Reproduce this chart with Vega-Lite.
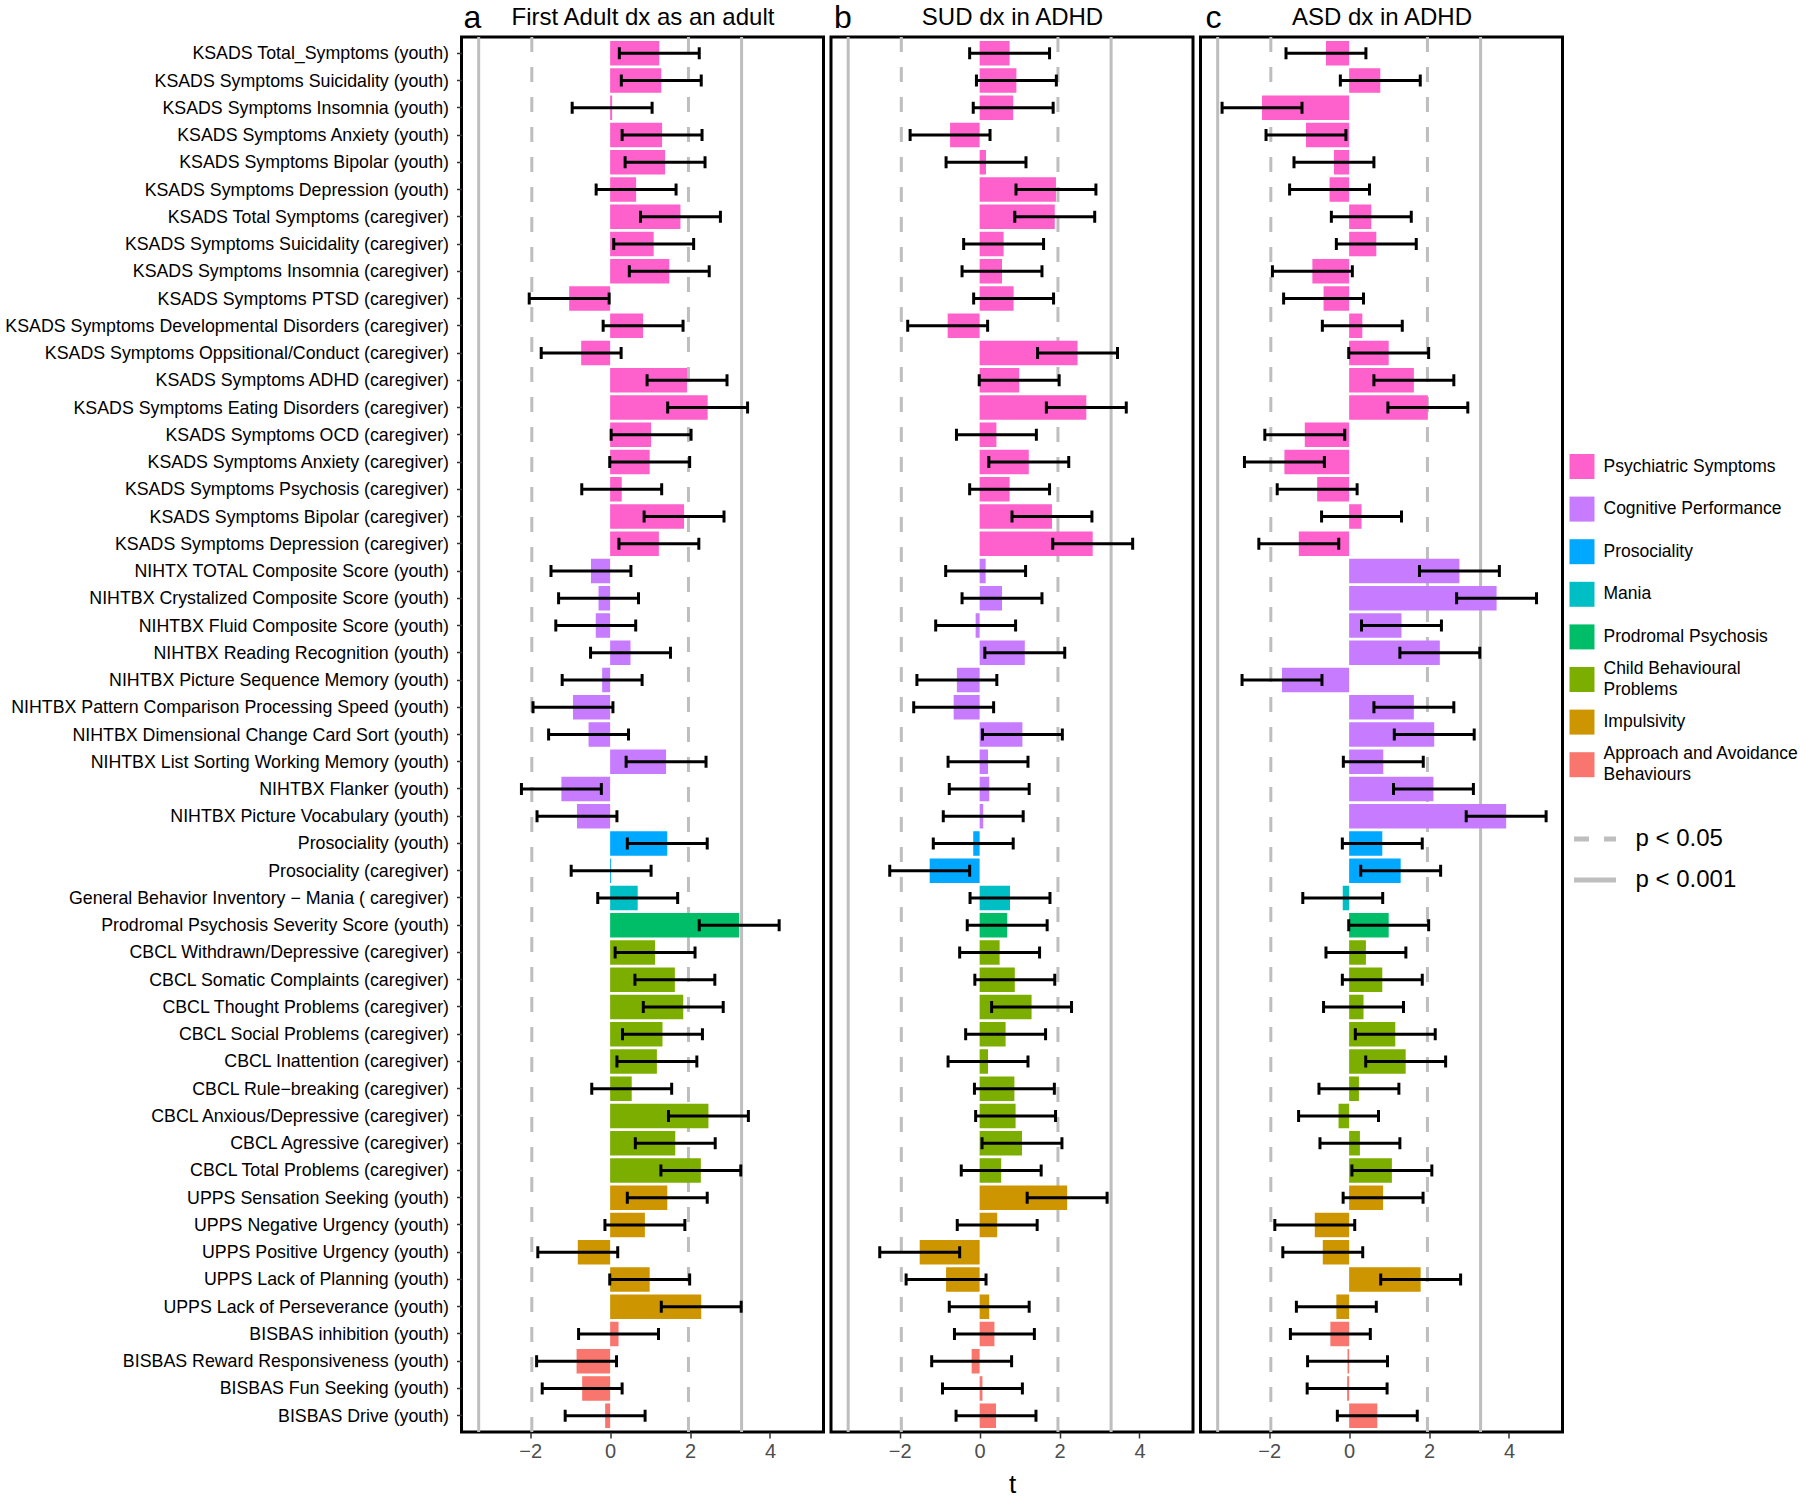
{
  "$schema": "https://vega.github.io/schema/vega-lite/v6.json",
  "padding": {"left": 2.5, "top": 0, "right": 0, "bottom": 0},
  "background": "white",
  "config": {
    "font": "Liberation Sans",
    "view": {"stroke": "black", "strokeWidth": 3},
    "axis": {"grid": false}
  },
  "datasets": {
    "vl": [
      {"v": -3.29, "p": "p < 0.001"},
      {"v": -1.96, "p": "p < 0.05"},
      {"v": 1.96, "p": "p < 0.05"},
      {"v": 3.29, "p": "p < 0.001"}
    ],
    "d": [
      {"item": "KSADS Total_Symptoms (youth)", "cat": "Psychiatric Symptoms", "ta": 1.23, "la": 0.23, "ha": 2.23, "tb": 0.75, "lb": -0.25, "hb": 1.75, "tc": -0.58, "lc": -1.58, "hc": 0.42},
      {"item": "KSADS Symptoms Suicidality (youth)", "cat": "Psychiatric Symptoms", "ta": 1.28, "la": 0.28, "ha": 2.28, "tb": 0.92, "lb": -0.08, "hb": 1.92, "tc": 0.78, "lc": -0.22, "hc": 1.78},
      {"item": "KSADS Symptoms Insomnia (youth)", "cat": "Psychiatric Symptoms", "ta": 0.05, "la": -0.95, "ha": 1.05, "tb": 0.84, "lb": -0.16, "hb": 1.84, "tc": -2.18, "lc": -3.18, "hc": -1.18},
      {"item": "KSADS Symptoms Anxiety (youth)", "cat": "Psychiatric Symptoms", "ta": 1.30, "la": 0.30, "ha": 2.30, "tb": -0.74, "lb": -1.74, "hb": 0.26, "tc": -1.08, "lc": -2.08, "hc": -0.08},
      {"item": "KSADS Symptoms Bipolar (youth)", "cat": "Psychiatric Symptoms", "ta": 1.375, "la": 0.375, "ha": 2.375, "tb": 0.16, "lb": -0.84, "hb": 1.16, "tc": -0.38, "lc": -1.38, "hc": 0.62},
      {"item": "KSADS Symptoms Depression (youth)", "cat": "Psychiatric Symptoms", "ta": 0.65, "la": -0.35, "ha": 1.65, "tb": 1.91, "lb": 0.91, "hb": 2.91, "tc": -0.49, "lc": -1.49, "hc": 0.51},
      {"item": "KSADS Total Symptoms (caregiver)", "cat": "Psychiatric Symptoms", "ta": 1.76, "la": 0.76, "ha": 2.76, "tb": 1.88, "lb": 0.88, "hb": 2.88, "tc": 0.555, "lc": -0.445, "hc": 1.555},
      {"item": "KSADS Symptoms Suicidality (caregiver)", "cat": "Psychiatric Symptoms", "ta": 1.09, "la": 0.09, "ha": 2.09, "tb": 0.6, "lb": -0.4, "hb": 1.6, "tc": 0.68, "lc": -0.32, "hc": 1.68},
      {"item": "KSADS Symptoms Insomnia (caregiver)", "cat": "Psychiatric Symptoms", "ta": 1.48, "la": 0.48, "ha": 2.48, "tb": 0.56, "lb": -0.44, "hb": 1.56, "tc": -0.92, "lc": -1.92, "hc": 0.08},
      {"item": "KSADS Symptoms PTSD (caregiver)", "cat": "Psychiatric Symptoms", "ta": -1.025, "la": -2.025, "ha": -0.025, "tb": 0.85, "lb": -0.15, "hb": 1.85, "tc": -0.64, "lc": -1.64, "hc": 0.36},
      {"item": "KSADS Symptoms Developmental Disorders (caregiver)", "cat": "Psychiatric Symptoms", "ta": 0.825, "la": -0.175, "ha": 1.825, "tb": -0.8, "lb": -1.8, "hb": 0.2, "tc": 0.33, "lc": -0.67, "hc": 1.33},
      {"item": "KSADS Symptoms Oppsitional/Conduct (caregiver)", "cat": "Psychiatric Symptoms", "ta": -0.725, "la": -1.725, "ha": 0.275, "tb": 2.45, "lb": 1.45, "hb": 3.45, "tc": 0.99, "lc": -0.01, "hc": 1.99},
      {"item": "KSADS Symptoms ADHD (caregiver)", "cat": "Psychiatric Symptoms", "ta": 1.925, "la": 0.925, "ha": 2.925, "tb": 0.99, "lb": -0.01, "hb": 1.99, "tc": 1.62, "lc": 0.62, "hc": 2.62},
      {"item": "KSADS Symptoms Eating Disorders (caregiver)", "cat": "Psychiatric Symptoms", "ta": 2.44, "la": 1.44, "ha": 3.44, "tb": 2.67, "lb": 1.67, "hb": 3.67, "tc": 1.97, "lc": 0.97, "hc": 2.97},
      {"item": "KSADS Symptoms OCD (caregiver)", "cat": "Psychiatric Symptoms", "ta": 1.025, "la": 0.025, "ha": 2.025, "tb": 0.42, "lb": -0.58, "hb": 1.42, "tc": -1.11, "lc": -2.11, "hc": -0.11},
      {"item": "KSADS Symptoms Anxiety (caregiver)", "cat": "Psychiatric Symptoms", "ta": 0.99, "la": -0.01, "ha": 1.99, "tb": 1.23, "lb": 0.23, "hb": 2.23, "tc": -1.62, "lc": -2.62, "hc": -0.62},
      {"item": "KSADS Symptoms Psychosis (caregiver)", "cat": "Psychiatric Symptoms", "ta": 0.29, "la": -0.71, "ha": 1.29, "tb": 0.75, "lb": -0.25, "hb": 1.75, "tc": -0.8, "lc": -1.8, "hc": 0.2},
      {"item": "KSADS Symptoms Bipolar (caregiver)", "cat": "Psychiatric Symptoms", "ta": 1.85, "la": 0.85, "ha": 2.85, "tb": 1.81, "lb": 0.81, "hb": 2.81, "tc": 0.31, "lc": -0.69, "hc": 1.31},
      {"item": "KSADS Symptoms Depression (caregiver)", "cat": "Psychiatric Symptoms", "ta": 1.22, "la": 0.22, "ha": 2.22, "tb": 2.83, "lb": 1.83, "hb": 3.83, "tc": -1.26, "lc": -2.26, "hc": -0.26},
      {"item": "NIHTX TOTAL Composite Score (youth)", "cat": "Cognitive Performance", "ta": -0.48, "la": -1.48, "ha": 0.52, "tb": 0.15, "lb": -0.85, "hb": 1.15, "tc": 2.76, "lc": 1.76, "hc": 3.76},
      {"item": "NIHTBX Crystalized Composite Score (youth)", "cat": "Cognitive Performance", "ta": -0.29, "la": -1.29, "ha": 0.71, "tb": 0.56, "lb": -0.44, "hb": 1.56, "tc": 3.69, "lc": 2.69, "hc": 4.69},
      {"item": "NIHTBX Fluid Composite Score (youth)", "cat": "Cognitive Performance", "ta": -0.36, "la": -1.36, "ha": 0.64, "tb": -0.1, "lb": -1.1, "hb": 0.9, "tc": 1.31, "lc": 0.31, "hc": 2.31},
      {"item": "NIHTBX Reading Recognition (youth)", "cat": "Cognitive Performance", "ta": 0.51, "la": -0.49, "ha": 1.51, "tb": 1.13, "lb": 0.13, "hb": 2.13, "tc": 2.27, "lc": 1.27, "hc": 3.27},
      {"item": "NIHTBX Picture Sequence Memory (youth)", "cat": "Cognitive Performance", "ta": -0.2, "la": -1.2, "ha": 0.8, "tb": -0.57, "lb": -1.57, "hb": 0.43, "tc": -1.68, "lc": -2.68, "hc": -0.68},
      {"item": "NIHTBX Pattern Comparison Processing Speed (youth)", "cat": "Cognitive Performance", "ta": -0.93, "la": -1.93, "ha": 0.07, "tb": -0.65, "lb": -1.65, "hb": 0.35, "tc": 1.62, "lc": 0.62, "hc": 2.62},
      {"item": "NIHTBX Dimensional Change Card Sort (youth)", "cat": "Cognitive Performance", "ta": -0.54, "la": -1.54, "ha": 0.46, "tb": 1.07, "lb": 0.07, "hb": 2.07, "tc": 2.13, "lc": 1.13, "hc": 3.13},
      {"item": "NIHTBX List Sorting Working Memory (youth)", "cat": "Cognitive Performance", "ta": 1.40, "la": 0.40, "ha": 2.40, "tb": 0.21, "lb": -0.79, "hb": 1.21, "tc": 0.855, "lc": -0.145, "hc": 1.855},
      {"item": "NIHTBX Flanker (youth)", "cat": "Cognitive Performance", "ta": -1.22, "la": -2.22, "ha": -0.22, "tb": 0.24, "lb": -0.76, "hb": 1.24, "tc": 2.11, "lc": 1.11, "hc": 3.11},
      {"item": "NIHTBX Picture Vocabulary (youth)", "cat": "Cognitive Performance", "ta": -0.83, "la": -1.83, "ha": 0.17, "tb": 0.09, "lb": -0.91, "hb": 1.09, "tc": 3.93, "lc": 2.93, "hc": 4.93},
      {"item": "Prosociality (youth)", "cat": "Prosociality", "ta": 1.43, "la": 0.43, "ha": 2.43, "tb": -0.16, "lb": -1.16, "hb": 0.84, "tc": 0.83, "lc": -0.17, "hc": 1.83},
      {"item": "Prosociality (caregiver)", "cat": "Prosociality", "ta": 0.025, "la": -0.975, "ha": 1.025, "tb": -1.25, "lb": -2.25, "hb": -0.25, "tc": 1.29, "lc": 0.29, "hc": 2.29},
      {"item": "General Behavior Inventory − Mania ( caregiver)", "cat": "Mania", "ta": 0.69, "la": -0.31, "ha": 1.69, "tb": 0.76, "lb": -0.24, "hb": 1.76, "tc": -0.16, "lc": -1.16, "hc": 0.84},
      {"item": "Prodromal Psychosis Severity Score (youth)", "cat": "Prodromal Psychosis", "ta": 3.23, "la": 2.23, "ha": 4.23, "tb": 0.69, "lb": -0.31, "hb": 1.69, "tc": 0.99, "lc": -0.01, "hc": 1.99},
      {"item": "CBCL Withdrawn/Depressive (caregiver)", "cat": "Child Behavioural Problems", "ta": 1.125, "la": 0.125, "ha": 2.125, "tb": 0.5, "lb": -0.5, "hb": 1.5, "tc": 0.42, "lc": -0.58, "hc": 1.42},
      {"item": "CBCL Somatic Complaints (caregiver)", "cat": "Child Behavioural Problems", "ta": 1.62, "la": 0.62, "ha": 2.62, "tb": 0.88, "lb": -0.12, "hb": 1.88, "tc": 0.83, "lc": -0.17, "hc": 1.83},
      {"item": "CBCL Thought Problems (caregiver)", "cat": "Child Behavioural Problems", "ta": 1.83, "la": 0.83, "ha": 2.83, "tb": 1.3, "lb": 0.3, "hb": 2.3, "tc": 0.36, "lc": -0.64, "hc": 1.36},
      {"item": "CBCL Social Problems (caregiver)", "cat": "Child Behavioural Problems", "ta": 1.31, "la": 0.31, "ha": 2.31, "tb": 0.65, "lb": -0.35, "hb": 1.65, "tc": 1.155, "lc": 0.155, "hc": 2.155},
      {"item": "CBCL Inattention (caregiver)", "cat": "Child Behavioural Problems", "ta": 1.17, "la": 0.17, "ha": 2.17, "tb": 0.21, "lb": -0.79, "hb": 1.21, "tc": 1.415, "lc": 0.415, "hc": 2.415},
      {"item": "CBCL Rule−breaking (caregiver)", "cat": "Child Behavioural Problems", "ta": 0.54, "la": -0.46, "ha": 1.54, "tb": 0.87, "lb": -0.13, "hb": 1.87, "tc": 0.245, "lc": -0.755, "hc": 1.245},
      {"item": "CBCL Anxious/Depressive (caregiver)", "cat": "Child Behavioural Problems", "ta": 2.46, "la": 1.46, "ha": 3.46, "tb": 0.9, "lb": -0.1, "hb": 1.9, "tc": -0.265, "lc": -1.265, "hc": 0.735},
      {"item": "CBCL Agressive (caregiver)", "cat": "Child Behavioural Problems", "ta": 1.63, "la": 0.63, "ha": 2.63, "tb": 1.06, "lb": 0.06, "hb": 2.06, "tc": 0.27, "lc": -0.73, "hc": 1.27},
      {"item": "CBCL Total Problems (caregiver)", "cat": "Child Behavioural Problems", "ta": 2.27, "la": 1.27, "ha": 3.27, "tb": 0.54, "lb": -0.46, "hb": 1.54, "tc": 1.07, "lc": 0.07, "hc": 2.07},
      {"item": "UPPS Sensation Seeking (youth)", "cat": "Impulsivity", "ta": 1.43, "la": 0.43, "ha": 2.43, "tb": 2.19, "lb": 1.19, "hb": 3.19, "tc": 0.85, "lc": -0.15, "hc": 1.85},
      {"item": "UPPS Negative Urgency (youth)", "cat": "Impulsivity", "ta": 0.87, "la": -0.13, "ha": 1.87, "tb": 0.44, "lb": -0.56, "hb": 1.44, "tc": -0.86, "lc": -1.86, "hc": 0.14},
      {"item": "UPPS Positive Urgency (youth)", "cat": "Impulsivity", "ta": -0.81, "la": -1.81, "ha": 0.19, "tb": -1.5, "lb": -2.5, "hb": -0.5, "tc": -0.66, "lc": -1.66, "hc": 0.34},
      {"item": "UPPS Lack of Planning (youth)", "cat": "Impulsivity", "ta": 0.99, "la": -0.01, "ha": 1.99, "tb": -0.84, "lb": -1.84, "hb": 0.16, "tc": 1.79, "lc": 0.79, "hc": 2.79},
      {"item": "UPPS Lack of Perseverance (youth)", "cat": "Impulsivity", "ta": 2.28, "la": 1.28, "ha": 3.28, "tb": 0.24, "lb": -0.76, "hb": 1.24, "tc": -0.32, "lc": -1.32, "hc": 0.68},
      {"item": "BISBAS inhibition (youth)", "cat": "Approach and Avoidance Behaviours", "ta": 0.21, "la": -0.79, "ha": 1.21, "tb": 0.37, "lb": -0.63, "hb": 1.37, "tc": -0.47, "lc": -1.47, "hc": 0.53},
      {"item": "BISBAS Reward Responsiveness (youth)", "cat": "Approach and Avoidance Behaviours", "ta": -0.84, "la": -1.84, "ha": 0.16, "tb": -0.2, "lb": -1.2, "hb": 0.8, "tc": -0.04, "lc": -1.04, "hc": 0.96},
      {"item": "BISBAS Fun Seeking (youth)", "cat": "Approach and Avoidance Behaviours", "ta": -0.70, "la": -1.70, "ha": 0.30, "tb": 0.07, "lb": -0.93, "hb": 1.07, "tc": -0.05, "lc": -1.05, "hc": 0.95},
      {"item": "BISBAS Drive (youth)", "cat": "Approach and Avoidance Behaviours", "ta": -0.125, "la": -1.125, "ha": 0.875, "tb": 0.41, "lb": -0.59, "hb": 1.41, "tc": 0.705, "lc": -0.295, "hc": 1.705}
    ]
  },
  "resolve": {"scale": {"color": "shared", "strokeDash": "shared"}, "legend": {"color": "shared", "strokeDash": "shared"}},
  "spacing": 3.5,
  "hconcat": [
    {
      "width": 362, "height": 1395,
      "title": {"text": "a", "frame": "group", "fontSize": 32, "fontWeight": "normal", "anchor": "start", "dx": 2, "offset": -30, "color": "black"},
      "resolve": {"axis": {"x": "independent"}},
      "layer": [
        {
          "data": {"name": "vl"},
          "mark": {"type": "rule", "color": "#bebebe", "strokeWidth": 3},
          "encoding": {
            "x": {"field": "v", "type": "quantitative", "scale": {"domain": [-3.72, 5.34], "nice": false, "zero": false},
                  "axis": {"orient": "top", "labels": false, "ticks": false, "domain": false, "title": "First Adult dx as an adult", "titleFontSize": 24, "titleFontWeight": "normal", "titleColor": "black", "titlePadding": 8}},
            "strokeDash": {"field": "p", "type": "nominal", "scale": {"domain": ["p < 0.05", "p < 0.001"], "range": [[15, 15], [1, 0]]},
                  "legend": {"title": null, "orient": "none", "legendX": 1110, "legendY": 790, "symbolType": "stroke", "symbolSize": 1764, "symbolStrokeWidth": 5, "symbolStrokeColor": "#bebebe", "labelFontSize": 24, "labelColor": "black", "rowPadding": 17, "clipHeight": 24, "labelOffset": 17}}
          }
        },
        {
          "data": {"name": "d"},
          "mark": {"type": "bar"},
          "encoding": {
            "y": {"field": "item", "type": "nominal", "sort": null, "scale": {"paddingInner": 0.1, "paddingOuter": 0.147},
                  "axis": {"title": null, "labelFontSize": 17.8, "labelColor": "black", "labelLimit": 700, "tickColor": "#333333", "tickSize": 5, "tickWidth": 1.5, "domain": false, "labelPadding": 8, "labelOffset": 1}},
            "x": {"field": "ta", "type": "quantitative", "scale": {"domain": [-3.72, 5.34], "nice": false, "zero": false},
                  "axis": {"orient": "bottom", "title": null, "values": [-2, 0, 2, 4], "domain": false, "tickColor": "#333333", "tickWidth": 1.5, "tickSize": 6, "labelFontSize": 20, "labelColor": "#4d4d4d", "labelPadding": 3}},
            "color": {"field": "cat", "type": "nominal",
                  "scale": {"domain": ["Psychiatric Symptoms", "Cognitive Performance", "Prosociality", "Mania", "Prodromal Psychosis", "Child Behavioural Problems", "Impulsivity", "Approach and Avoidance Behaviours"],
                            "range": ["#FF61CC", "#C77CFF", "#00A9FF", "#00BFC4", "#00BE67", "#7CAE00", "#CD9600", "#F8766D"]},
                  "legend": {"title": null, "orient": "none", "legendX": 1108, "legendY": 417, "symbolType": "square", "symbolSize": 625, "symbolStrokeWidth": 0, "symbolOpacity": 1, "labelFontSize": 17.5, "labelColor": "black", "labelLimit": 400, "rowPadding": 3.6, "gridAlign": "all", "labelOffset": 9,
                             "labelExpr": "datum.label == 'Child Behavioural Problems' ? ['Child Behavioural', 'Problems'] : datum.label == 'Approach and Avoidance Behaviours' ? ['Approach and Avoidance', 'Behaviours'] : datum.label",
                             "encoding": {"labels": {"lineHeight": {"value": 21}, "dy": {"value": {"expr": "(datum.label == 'Child Behavioural Problems' || datum.label == 'Approach and Avoidance Behaviours') ? -10.5 : 0"}}}}}}
          }
        },
        {
          "data": {"name": "d"},
          "mark": {"type": "rule", "color": "black", "strokeWidth": 3},
          "encoding": {
            "y": {"field": "item", "type": "nominal", "sort": null},
            "x": {"field": "la", "type": "quantitative", "axis": null},
            "x2": {"field": "ha"}
          }
        },
        {
          "data": {"name": "d"},
          "mark": {"type": "tick", "color": "black", "size": 12, "thickness": 3, "opacity": 1},
          "encoding": {
            "y": {"field": "item", "type": "nominal", "sort": null},
            "x": {"field": "la", "type": "quantitative", "axis": null}
          }
        },
        {
          "data": {"name": "d"},
          "mark": {"type": "tick", "color": "black", "size": 12, "thickness": 3, "opacity": 1},
          "encoding": {
            "y": {"field": "item", "type": "nominal", "sort": null},
            "x": {"field": "ha", "type": "quantitative", "axis": null}
          }
        }
      ]
    },
    {
      "width": 362, "height": 1395,
      "title": {"text": "b", "frame": "group", "fontSize": 32, "fontWeight": "normal", "anchor": "start", "dx": 3, "offset": -30, "color": "black"},
      "resolve": {"axis": {"x": "independent"}},
      "layer": [
        {
          "data": {"name": "vl"},
          "mark": {"type": "rule", "color": "#bebebe", "strokeWidth": 3},
          "encoding": {
            "x": {"field": "v", "type": "quantitative", "scale": {"domain": [-3.72, 5.34], "nice": false, "zero": false},
                  "axis": {"orient": "top", "labels": false, "ticks": false, "domain": false, "title": "SUD dx in ADHD", "titleFontSize": 24, "titleFontWeight": "normal", "titleColor": "black", "titlePadding": 8}},
            "strokeDash": {"field": "p", "type": "nominal", "scale": {"domain": ["p < 0.05", "p < 0.001"], "range": [[15, 15], [1, 0]]}}
          }
        },
        {
          "data": {"name": "d"},
          "mark": {"type": "bar"},
          "encoding": {
            "y": {"field": "item", "type": "nominal", "sort": null, "scale": {"paddingInner": 0.1, "paddingOuter": 0.147}, "axis": null},
            "x": {"field": "tb", "type": "quantitative", "scale": {"domain": [-3.72, 5.34], "nice": false, "zero": false},
                  "axis": {"orient": "bottom", "title": "t", "titleFontSize": 26, "titleFontWeight": "normal", "titleColor": "black", "titlePadding": 10, "values": [-2, 0, 2, 4], "domain": false, "tickColor": "#333333", "tickWidth": 1.5, "tickSize": 6, "labelFontSize": 20, "labelColor": "#4d4d4d", "labelPadding": 3}},
            "color": {"field": "cat", "type": "nominal"}
          }
        },
        {
          "data": {"name": "d"},
          "mark": {"type": "rule", "color": "black", "strokeWidth": 3},
          "encoding": {
            "y": {"field": "item", "type": "nominal", "sort": null},
            "x": {"field": "lb", "type": "quantitative", "axis": null},
            "x2": {"field": "hb"}
          }
        },
        {
          "data": {"name": "d"},
          "mark": {"type": "tick", "color": "black", "size": 12, "thickness": 3, "opacity": 1},
          "encoding": {
            "y": {"field": "item", "type": "nominal", "sort": null},
            "x": {"field": "lb", "type": "quantitative", "axis": null}
          }
        },
        {
          "data": {"name": "d"},
          "mark": {"type": "tick", "color": "black", "size": 12, "thickness": 3, "opacity": 1},
          "encoding": {
            "y": {"field": "item", "type": "nominal", "sort": null},
            "x": {"field": "hb", "type": "quantitative", "axis": null}
          }
        }
      ]
    },
    {
      "width": 362, "height": 1395,
      "title": {"text": "c", "frame": "group", "fontSize": 32, "fontWeight": "normal", "anchor": "start", "dx": 5, "offset": -30, "color": "black"},
      "resolve": {"axis": {"x": "independent"}},
      "layer": [
        {
          "data": {"name": "vl"},
          "mark": {"type": "rule", "color": "#bebebe", "strokeWidth": 3},
          "encoding": {
            "x": {"field": "v", "type": "quantitative", "scale": {"domain": [-3.72, 5.34], "nice": false, "zero": false},
                  "axis": {"orient": "top", "labels": false, "ticks": false, "domain": false, "title": "ASD dx in ADHD", "titleFontSize": 24, "titleFontWeight": "normal", "titleColor": "black", "titlePadding": 8}},
            "strokeDash": {"field": "p", "type": "nominal", "scale": {"domain": ["p < 0.05", "p < 0.001"], "range": [[15, 15], [1, 0]]}}
          }
        },
        {
          "data": {"name": "d"},
          "mark": {"type": "bar"},
          "encoding": {
            "y": {"field": "item", "type": "nominal", "sort": null, "scale": {"paddingInner": 0.1, "paddingOuter": 0.147}, "axis": null},
            "x": {"field": "tc", "type": "quantitative", "scale": {"domain": [-3.72, 5.34], "nice": false, "zero": false},
                  "axis": {"orient": "bottom", "title": null, "values": [-2, 0, 2, 4], "domain": false, "tickColor": "#333333", "tickWidth": 1.5, "tickSize": 6, "labelFontSize": 20, "labelColor": "#4d4d4d", "labelPadding": 3}},
            "color": {"field": "cat", "type": "nominal"}
          }
        },
        {
          "data": {"name": "d"},
          "mark": {"type": "rule", "color": "black", "strokeWidth": 3},
          "encoding": {
            "y": {"field": "item", "type": "nominal", "sort": null},
            "x": {"field": "lc", "type": "quantitative", "axis": null},
            "x2": {"field": "hc"}
          }
        },
        {
          "data": {"name": "d"},
          "mark": {"type": "tick", "color": "black", "size": 12, "thickness": 3, "opacity": 1},
          "encoding": {
            "y": {"field": "item", "type": "nominal", "sort": null},
            "x": {"field": "lc", "type": "quantitative", "axis": null}
          }
        },
        {
          "data": {"name": "d"},
          "mark": {"type": "tick", "color": "black", "size": 12, "thickness": 3, "opacity": 1},
          "encoding": {
            "y": {"field": "item", "type": "nominal", "sort": null},
            "x": {"field": "hc", "type": "quantitative", "axis": null}
          }
        }
      ]
    }
  ]
}
